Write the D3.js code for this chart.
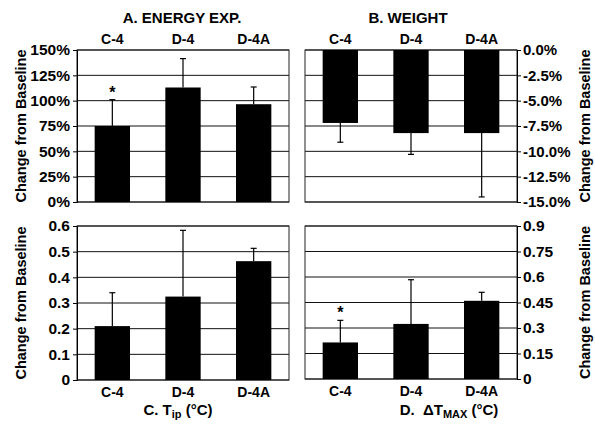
<!doctype html>
<html>
<head>
<meta charset="utf-8">
<script src="https://d3js.org/d3.v7.min.js"></script>
<style>
  body { margin: 0; background: #fff; }
  text { font-family: Arial, "Liberation Sans", sans-serif; font-weight: bold; fill: #000; }
</style>
</head>
<body>
<svg width="595" height="424"></svg>
<script>
// data
var categories = ["C-4", "D-4", "D-4A"];

var energyMean = [75, 113, 96.5];      // % change
var energySd = [26, 28.5, 17];
var energyTicks = [0, 25, 50, 75, 100, 125, 150];

var weightMean = [-7.2, -8.2, -8.2];   // % change
var weightSd = [1.9, 2.1, 6.3];
var weightTicks = [0, -2.5, -5, -7.5, -10, -12.5, -15];

var tipMean = [0.21, 0.325, 0.463];    // degC
var tipSd = [0.13, 0.258, 0.05];
var tipTicks = [0, 0.1, 0.2, 0.3, 0.4, 0.5, 0.6];

var dtMean = [0.215, 0.324, 0.46];     // degC
var dtSd = [0.13, 0.26, 0.05];
var dtTicks = [0, 0.15, 0.3, 0.45, 0.6, 0.75, 0.9];

var starA = ["C-4"], starD = ["C-4"];

var svg = d3.select("svg");

function panel(opt) {
    var w = opt.x1 - opt.x0, h = opt.y1 - opt.y0;
    var g = svg.append("g").attr("transform", "translate(" + opt.x0 + "," + opt.y0 + ")");

    var x = d3.scaleBand().domain(categories).range([0, w])
              .paddingInner(0.5).paddingOuter(0.25);
    var y = d3.scaleLinear().domain(opt.domain).range([h, 0]);

    // gridlines
    g.selectAll(".grid").data(opt.ticks).enter().append("line")
     .attr("x1", 0).attr("x2", w)
     .attr("y1", function(d) { return y(d); }).attr("y2", function(d) { return y(d); })
     .attr("stroke", "#111").attr("stroke-width", 1);

    // frame
    g.append("rect").attr("width", w).attr("height", h)
     .attr("fill", "none").attr("stroke", "#222").attr("stroke-width", 1);

    var data = categories.map(function(c, i) {
        return { cat: c, m: opt.mean[i], sd: opt.sd[i] };
    });

    // error bars (one-sided, away from zero)
    var sign = opt.neg ? -1 : 1;
    g.selectAll(".err").data(data).enter().append("line")
     .attr("x1", function(d) { return x(d.cat) + x.bandwidth() / 2; })
     .attr("x2", function(d) { return x(d.cat) + x.bandwidth() / 2; })
     .attr("y1", function(d) { return y(d.m); })
     .attr("y2", function(d) { return y(d.m + sign * d.sd); })
     .attr("stroke", "#000").attr("stroke-width", 1.2);
    g.selectAll(".cap").data(data).enter().append("line")
     .attr("x1", function(d) { return x(d.cat) + x.bandwidth() / 2 - 3; })
     .attr("x2", function(d) { return x(d.cat) + x.bandwidth() / 2 + 3; })
     .attr("y1", function(d) { return y(d.m + sign * d.sd); })
     .attr("y2", function(d) { return y(d.m + sign * d.sd); })
     .attr("stroke", "#000").attr("stroke-width", 1.2);

    // bars
    g.selectAll(".bar").data(data).enter().append("rect")
     .attr("x", function(d) { return x(d.cat); })
     .attr("width", x.bandwidth())
     .attr("y", function(d) { return Math.min(y(d.m), y(0)); })
     .attr("height", function(d) { return Math.abs(y(d.m) - y(0)); })
     .attr("fill", "#000");

    // stars
    if (opt.stars) {
        g.selectAll(".star").data(data.filter(function(d) { return opt.stars.indexOf(d.cat) >= 0; }))
         .enter().append("text")
         .attr("x", function(d) { return x(d.cat) + x.bandwidth() / 2; })
         .attr("y", function(d) { return y(d.m + sign * d.sd) - 2; })
         .attr("text-anchor", "middle").attr("font-size", "16px")
         .text("*");
    }

    // value axis
    var ax = opt.right ? d3.axisRight(y) : d3.axisLeft(y);
    ax.tickValues(opt.ticks).tickFormat(opt.fmt).tickSize(4).tickPadding(opt.right ? 2 : 3);
    var axg = g.append("g")
               .attr("transform", opt.right ? "translate(" + w + ",0)" : null)
               .call(ax);
    axg.select(".domain").attr("stroke", "#000");
    axg.selectAll("text").attr("font-size", opt.tickSize || "15.5px").attr("fill", "#000")
       .style("font-family", "Arial, 'Liberation Sans', sans-serif").style("font-weight", "bold");

    // category labels
    var cy = opt.catTop ? -6 : h + 17;
    g.selectAll(".cat").data(categories).enter().append("text")
     .attr("x", function(d) { return x(d) + x.bandwidth() / 2; })
     .attr("y", cy)
     .attr("text-anchor", "middle").attr("font-size", "14px")
     .text(function(d) { return d; });

    // y title
    var tx = opt.right ? 585 : 21;
    svg.append("text")
       .attr("transform", "translate(" + tx + "," + ((opt.y0 + opt.y1) / 2) + ") rotate(-90)")
       .attr("text-anchor", "middle").attr("dy", "0.35em").attr("font-size", "14.5px")
       .text("Change from Baseline");
}

panel({ x0: 77, x1: 289, y0: 50, y1: 202, domain: [0, 150], ticks: energyTicks,
        mean: energyMean, sd: energySd, fmt: function(d) { return d + "%"; },
        catTop: true, stars: starA });
panel({ x0: 305, x1: 517, y0: 50, y1: 202, domain: [-15, 0], ticks: weightTicks,
        mean: weightMean, sd: weightSd, neg: true, right: true, tickSize: "15px",
        fmt: function(d) { return (d < 0 ? "-" : "") + Math.abs(d).toFixed(1) + "%"; },
        catTop: true });
panel({ x0: 77, x1: 289, y0: 226, y1: 380, domain: [0, 0.6], ticks: tipTicks,
        mean: tipMean, sd: tipSd, fmt: function(d) { return String(+d.toFixed(2)); } });
panel({ x0: 305, x1: 517, y0: 226, y1: 379, domain: [0, 0.9], ticks: dtTicks,
        mean: dtMean, sd: dtSd, right: true, stars: starD,
        fmt: function(d) { return String(+d.toFixed(2)); } });

// panel titles
svg.append("text").attr("x", 182).attr("y", 23).attr("text-anchor", "middle")
   .attr("font-size", "15px").text("A. ENERGY EXP.");
svg.append("text").attr("x", 408).attr("y", 23).attr("text-anchor", "middle")
   .attr("font-size", "15px").text("B. WEIGHT");

var tc = svg.append("text").attr("x", 178).attr("y", 415).attr("text-anchor", "middle")
            .attr("font-size", "15px");
tc.append("tspan").text("C. T");
tc.append("tspan").attr("font-size", "11px").attr("dy", 3).text("ip");
tc.append("tspan").attr("dy", -3).text(" (°C)");

var td = svg.append("text").attr("x", 449).attr("y", 415).attr("text-anchor", "middle")
            .attr("font-size", "15px").attr("xml:space", "preserve");
td.append("tspan").text("D.  ΔT");
td.append("tspan").attr("font-size", "11px").attr("dy", 3).text("MAX");
td.append("tspan").attr("dy", -3).text(" (°C)");
</script>
</body>
</html>
